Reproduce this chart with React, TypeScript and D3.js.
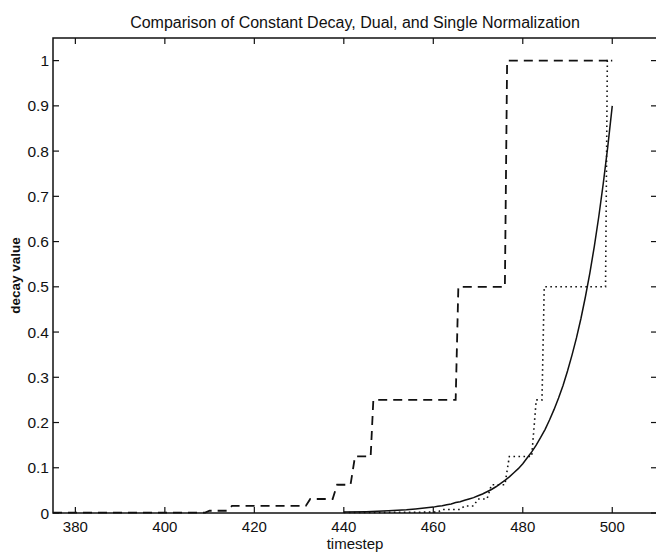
import React from "react";
import * as d3 from "d3";

const TITLE = "Comparison of Constant Decay, Dual, and Single Normalization";
const X_LABEL = "timestep";
const Y_LABEL = "decay value";

const xTicks = [380, 400, 420, 440, 460, 480, 500];
const yTicks = [0, 0.1, 0.2, 0.3, 0.4, 0.5, 0.6, 0.7, 0.8, 0.9, 1];
const yTickLabels = ["0", "0.1", "0.2", "0.3", "0.4", "0.5", "0.6", "0.7", "0.8", "0.9", "1"];

// Constant decay (solid)
const solidT = [440, 445, 450, 452, 454, 456, 458, 460, 461, 462, 463, 464, 465, 466, 467, 468, 469, 470, 471, 472, 473, 474, 475, 476, 477, 478, 479, 480, 481, 482, 483, 484, 485, 486, 487, 488, 489, 490, 491, 492, 493, 494, 495, 496, 497, 498, 499, 500];
const solidV = [0.002, 0.003, 0.005, 0.006, 0.007, 0.009, 0.011, 0.013, 0.015, 0.016, 0.018, 0.02, 0.023, 0.025, 0.028, 0.031, 0.034, 0.038, 0.042, 0.047, 0.052, 0.058, 0.065, 0.072, 0.08, 0.089, 0.098, 0.109, 0.122, 0.135, 0.15, 0.167, 0.185, 0.206, 0.229, 0.254, 0.282, 0.314, 0.349, 0.387, 0.43, 0.478, 0.531, 0.59, 0.656, 0.729, 0.81, 0.9];

// Dual normalization (dashed)
const dashT = [375, 409, 410, 414, 415, 431.5, 432.5, 437.5, 438.5, 441.5, 442.5, 446, 446.6, 465, 465.6, 476, 476.5, 500];
const dashV = [0.001, 0.001, 0.005, 0.005, 0.0156, 0.0156, 0.031, 0.031, 0.0625, 0.0625, 0.125, 0.125, 0.25, 0.25, 0.5, 0.5, 1, 1];

// Single normalization (dotted)
const dotT = [440, 461, 462, 466, 467, 469, 470, 472, 473, 476, 477, 482, 483, 484.3, 484.8, 498.5, 498.9, 500];
const dotV = [0.001, 0.002, 0.0078, 0.0078, 0.0156, 0.0156, 0.031, 0.031, 0.0625, 0.0625, 0.125, 0.125, 0.25, 0.25, 0.5, 0.5, 1, 1];

const W = 656;
const H = 552;
const FONT = "'Liberation Sans', Arial, Helvetica, sans-serif";

export default function App() {
  const left = 53, right = 657, top = 38, bottom = 513;
  const x = d3.scaleLinear().domain([375, 510]).range([left, right]);
  const y = d3.scaleLinear().domain([0, 1.05]).range([bottom, top]);
  const line = d3.line<[number, number]>().x((d) => x(d[0])).y((d) => y(d[1]));
  const solid = line(solidT.map((t, i) => [t, solidV[i]]) as [number, number][]) || "";
  const dashed = line(dashT.map((t, i) => [t, dashV[i]]) as [number, number][]) || "";
  const dotted = line(dotT.map((t, i) => [t, dotV[i]]) as [number, number][]) || "";
  const tl = 6;
  const cx = (left + right) / 2;
  return (
    <svg width={W} height={H} style={{ position: "absolute", left: 0, top: 0, background: "#fff" }} fontFamily={FONT}>
      <rect x={0} y={0} width={W} height={H} fill="#fff" />
      <text x={cx} y={28} textAnchor="middle" fontSize={16} fill="#111">{TITLE}</text>
      {/* data */}
      <path d={dashed} fill="none" stroke="#111" strokeWidth={1.8} strokeDasharray="9,6" />
      <path d={dotted} fill="none" stroke="#111" strokeWidth={1.6} strokeDasharray="1.6,3.4" />
      <path d={solid} fill="none" stroke="#111" strokeWidth={1.5} />
      {/* frame */}
      <rect x={left} y={top} width={right - left} height={bottom - top} fill="none" stroke="#111" strokeWidth={1.5} />
      {xTicks.map((t) => (
        <g key={"x" + t}>
          <line x1={x(t)} x2={x(t)} y1={bottom} y2={bottom - tl} stroke="#111" strokeWidth={1.2} />
          <line x1={x(t)} x2={x(t)} y1={top} y2={top + tl} stroke="#111" strokeWidth={1.2} />
          <text x={x(t)} y={532} textAnchor="middle" fontSize={15} fill="#111">{t}</text>
        </g>
      ))}
      {yTicks.map((v, i) => (
        <g key={"y" + v}>
          <line x1={left} x2={left + tl} y1={y(v)} y2={y(v)} stroke="#111" strokeWidth={1.2} />
          <line x1={right} x2={right - tl} y1={y(v)} y2={y(v)} stroke="#111" strokeWidth={1.2} />
          <text x={49} y={y(v) + 5.5} textAnchor="end" fontSize={15.5} fill="#111">{yTickLabels[i]}</text>
        </g>
      ))}
      <text x={cx} y={549} textAnchor="middle" fontSize={15} fill="#111">{X_LABEL}</text>
      <text transform={`translate(20,${(top + bottom) / 2}) rotate(-90)`} textAnchor="middle" fontSize={13.5} fontWeight="bold" fill="#111">{Y_LABEL}</text>
    </svg>
  );
}
